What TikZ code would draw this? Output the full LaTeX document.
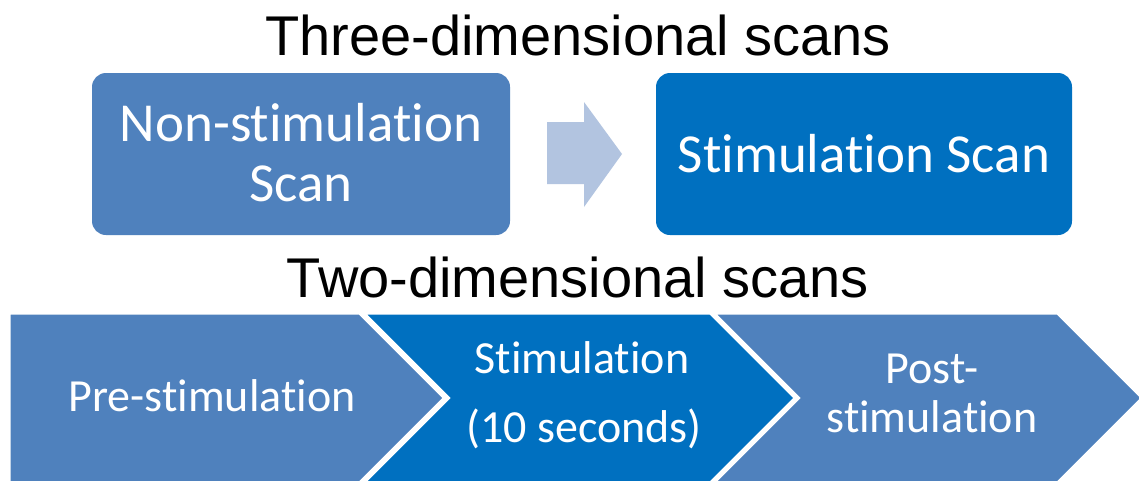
\documentclass[tikz,border=0pt]{standalone}
\usepackage{fontspec}
\setmainfont{Liberation Sans}
\newfontfamily\calfont[Ligatures={NoCommon,NoRequired,NoContextual}]{Carlito}
\definecolor{midblue}{HTML}{4F81BD}
\definecolor{deepblue}{HTML}{0070C0}
\definecolor{paleblue}{HTML}{B2C4E0}
\begin{document}
\begin{tikzpicture}[x=1pt,y=-1pt,
  title/.style={anchor=base, inner sep=0pt, text=black, font=\fontsize{56}{60}\selectfont},
  boxlabel/.style={anchor=base, inner sep=0pt, text=white, font=\calfont\fontsize{55}{60}\selectfont},
  chevlabel/.style={anchor=base, inner sep=0pt, text=white, font=\calfont\fontsize{46}{50}\selectfont},
  panel/.style={rectangle, rounded corners=14pt, inner sep=0pt, minimum height=162pt},
  chevron/.style={draw=white, line width=5pt, line join=miter},
]
\useasboundingbox (0,0) rectangle (1139,480);
\fill[white] (0,0) rectangle (1139,480);

% titles
\node[title] (t3d) at (578,55) {Three-dimensional scans};
\node[title] (t2d) at (578,297) {Two-dimensional scans};

% 3D scan panels
\node[panel, fill=midblue, minimum width=418pt] (nonstim) at (301,154) {};
\node[panel, fill=deepblue, minimum width=416pt] (stim) at (864,154) {};
\node[boxlabel] (nonstimA) at (301,141) {Non-stimulation};
\node[boxlabel] (nonstimB) at (301,201) {Scan};
\node[boxlabel] (stimscan) at (864,172) {Stimulation Scan};

% block arrow between panels
\fill[paleblue] (547,122) -- (584,122) -- (584,102) -- (622,154) -- (584,207)
  -- (584,184) -- (547,184) -- cycle;

% 2D scan chevrons
\path[chevron, fill=midblue] (8,312) -- (360,312) -- (446,398) -- (360,484)
  -- (8,484) -- cycle;
\path[chevron, fill=deepblue] (361,312) -- (711,312) -- (797,398) -- (711,484)
  -- (361,484) -- (447,398) -- cycle;
\path[chevron, fill=midblue] (711,312) -- (1058,312) -- (1144,398) -- (1058,484)
  -- (711,484) -- (797,398) -- cycle;

\node[chevlabel] (pre) at (212,411) {Pre-stimulation};
\node[chevlabel] (durA) at (582,373) {Stimulation};
\node[chevlabel] (durB) at (584,442) {(10 seconds)};
\node[chevlabel] (postA) at (932,383) {Post-};
\node[chevlabel] (postB) at (932,432) {stimulation};
\end{tikzpicture}
\end{document}
